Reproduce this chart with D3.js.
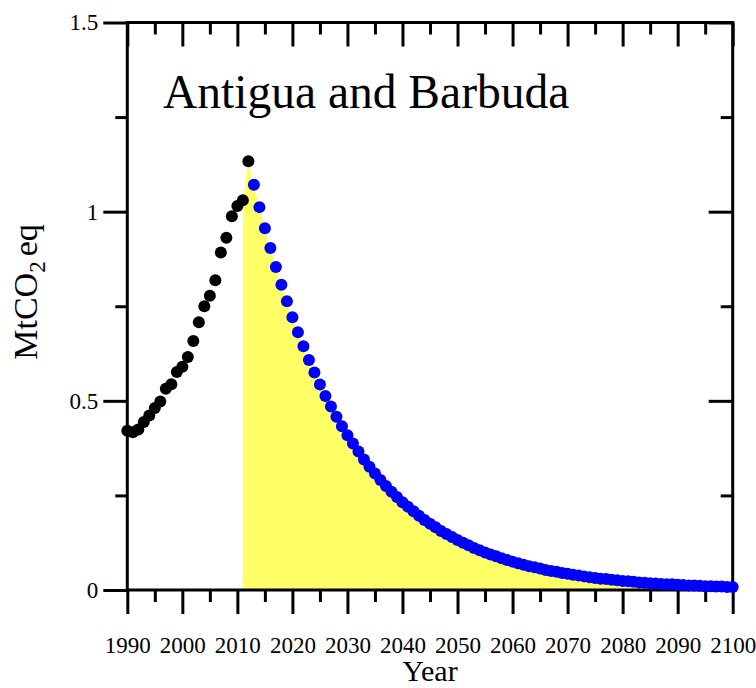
<!DOCTYPE html>
<html>
<head>
<meta charset="utf-8">
<script src="https://cdn.jsdelivr.net/npm/d3@7"></script>
<style>
	body { margin: 0; background: #fff; }
	svg { display: block; }
	text { font-family: "Liberation Serif", "Times New Roman", serif; fill: #000; }
</style>
</head>
<body>
<svg id="chart" width="756" height="688"></svg>
<script>

// historical emissions, 1990 - 2012
var histYears = d3.range(1990, 2013);
var histValues = [0.421, 0.417, 0.424, 0.444, 0.461, 0.481, 0.498, 0.532, 0.544, 0.576, 0.590, 0.616,
	0.658, 0.708, 0.750, 0.778, 0.819, 0.892, 0.931, 0.988, 1.015, 1.030, 1.133];

// projected pathway, 2013 - 2100
var projYears = d3.range(2013, 2101);
var projValues = [1.071, 1.012, 0.956, 0.904, 0.854, 0.807, 0.763, 0.721, 0.681, 0.644,
	0.608, 0.575, 0.543, 0.513, 0.485, 0.458, 0.433, 0.409, 0.387, 0.366,
	0.345, 0.326, 0.308, 0.291, 0.275, 0.260, 0.246, 0.232, 0.220, 0.208,
	0.196, 0.185, 0.175, 0.166, 0.156, 0.148, 0.140, 0.132, 0.125, 0.118,
	0.111, 0.105, 0.099, 0.094, 0.089, 0.084, 0.079, 0.075, 0.071, 0.067,
	0.063, 0.060, 0.057, 0.053, 0.050, 0.048, 0.045, 0.043, 0.040, 0.038,
	0.036, 0.034, 0.032, 0.030, 0.029, 0.027, 0.026, 0.024, 0.023, 0.022,
	0.020, 0.019, 0.018, 0.017, 0.016, 0.015, 0.015, 0.014, 0.013, 0.012,
	0.012, 0.011, 0.010, 0.010, 0.009, 0.009, 0.008, 0.008];

var xMajorTicks = d3.range(1990, 2101, 10);
var xMinorTicks = d3.range(1995, 2100, 10);
var yMajorTicks = [0, 0.5, 1, 1.5];
var yMinorTicks = [0.25, 0.75, 1.25];
var yTickLabels = ['0', '0.5', '1', '1.5'];
var title = 'Antigua and Barbuda';

var svg = d3.select('#chart');

var plotL = 127.3, plotR = 732.7, plotT = 22.5, plotB = 590;

var x = d3.scaleLinear().domain([1990, 2100]).range([plotL, plotR]);
var y = d3.scaleLinear().domain([0, 1.5]).range([plotB, plotT]);

/**
 * Shaded area from 2011 onward (last historical years + projection)
 */
var areaData = [];
for (var i = 0; i < histYears.length; i++) {
	if (histYears[i] >= 2011) areaData.push({year: histYears[i], value: histValues[i]});
}
for (var i = 0; i < projYears.length; i++) {
	areaData.push({year: projYears[i], value: projValues[i]});
}

var area = d3.area()
	.x(function(d) { return x(d.year); })
	.y0(y(0))
	.y1(function(d) { return y(d.value); });

svg.append('path')
	.datum(areaData)
	.attr('fill', '#ffff66')
	.attr('d', area);

/**
 * Axes: outward ticks on bottom / left, inward ticks on top / right
 */
var styleAxis = function(g) {
	g.select('.domain').remove();
	g.selectAll('.tick line').attr('stroke', '#000').attr('stroke-width', 3);
};

var majorLen = 24, minorLen = 12;

svg.append('g').attr('transform', 'translate(0,' + plotB + ')')
	.call(d3.axisBottom(x).tickValues(xMajorTicks).tickSize(majorLen).tickFormat(d3.format('d')).tickPadding(23))
	.call(styleAxis)
	.selectAll('text').style('font-size', '23px');

svg.append('g').attr('transform', 'translate(0,' + plotB + ')')
	.call(d3.axisBottom(x).tickValues(xMinorTicks).tickSize(minorLen).tickFormat(''))
	.call(styleAxis);

svg.append('g').attr('transform', 'translate(0,' + plotT + ')')
	.call(d3.axisBottom(x).tickValues(xMajorTicks).tickSize(majorLen).tickFormat(''))
	.call(styleAxis);

svg.append('g').attr('transform', 'translate(0,' + plotT + ')')
	.call(d3.axisBottom(x).tickValues(xMinorTicks).tickSize(minorLen).tickFormat(''))
	.call(styleAxis);

svg.append('g').attr('transform', 'translate(' + plotL + ',0)')
	.call(d3.axisLeft(y).tickValues(yMajorTicks).tickSize(majorLen).tickPadding(5)
		.tickFormat(function(d, i) { return yTickLabels[i]; }))
	.call(styleAxis)
	.selectAll('text').style('font-size', '23px');

svg.append('g').attr('transform', 'translate(' + plotL + ',0)')
	.call(d3.axisLeft(y).tickValues(yMinorTicks).tickSize(minorLen).tickFormat(''))
	.call(styleAxis);

svg.append('g').attr('transform', 'translate(' + plotR + ',0)')
	.call(d3.axisLeft(y).tickValues(yMajorTicks).tickSize(majorLen).tickFormat(''))
	.call(styleAxis);

svg.append('g').attr('transform', 'translate(' + plotR + ',0)')
	.call(d3.axisLeft(y).tickValues(yMinorTicks).tickSize(minorLen).tickFormat(''))
	.call(styleAxis);

// frame
svg.append('rect')
	.attr('x', plotL).attr('y', plotT)
	.attr('width', plotR - plotL).attr('height', plotB - plotT)
	.attr('fill', 'none').attr('stroke', '#000').attr('stroke-width', 3);

/**
 * Dots
 */
svg.append('g').selectAll('circle')
	.data(histYears)
	.enter().append('circle')
	.attr('cx', function(d) { return x(d); })
	.attr('cy', function(d, i) { return y(histValues[i]); })
	.attr('r', 6)
	.attr('fill', '#000');

svg.append('g').selectAll('circle')
	.data(projYears)
	.enter().append('circle')
	.attr('cx', function(d) { return x(d); })
	.attr('cy', function(d, i) { return y(projValues[i]); })
	.attr('r', 6)
	.attr('fill', '#0000ff');

/**
 * Labels
 */
svg.append('text')
	.attr('x', 163).attr('y', 108)
	.style('font-size', '47.5px')
	.text(title);

svg.append('text')
	.attr('x', (plotL + plotR) / 2).attr('y', 681)
	.attr('text-anchor', 'middle')
	.style('font-size', '30px')
	.text('Year');

var yLabel = svg.append('text')
	.attr('transform', 'translate(37,' + 292 + ') rotate(-90)')
	.attr('text-anchor', 'middle')
	.style('font-size', '34px');
yLabel.append('tspan').text('MtCO');
yLabel.append('tspan').attr('dy', 8).style('font-size', '23px').text('2');
yLabel.append('tspan').attr('dy', -8).attr('dx', 5).text('eq');

</script>
</body>
</html>
